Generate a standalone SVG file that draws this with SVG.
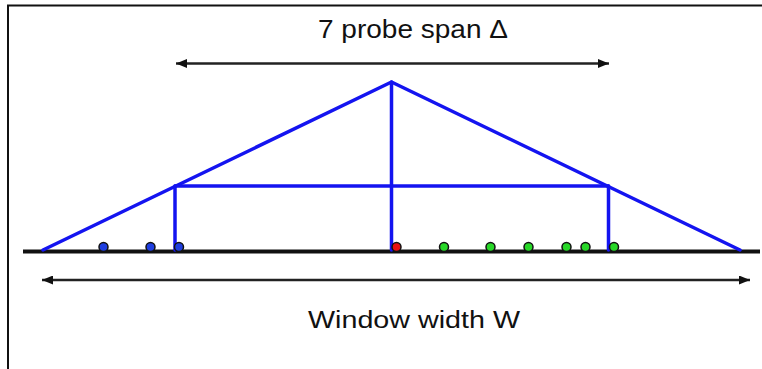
<svg xmlns="http://www.w3.org/2000/svg" width="762" height="369" viewBox="0 0 762 369">
<style>
.blue{stroke:#1414f0;stroke-width:3.5;fill:none;stroke-linecap:round;stroke-linejoin:round}
.dim{stroke:#222;stroke-width:2.5;fill:none}
.dot{stroke:#111;stroke-width:1.5}
.b{fill:#1e3ee0}.r{fill:#e81010}.g{fill:#28d828}
.lbl{font-family:"Liberation Sans",Arial,sans-serif;fill:#111}
</style>
<defs>
<marker id="ah" viewBox="0 0 11 9" refX="11" refY="4.5" markerWidth="11" markerHeight="9" markerUnits="userSpaceOnUse" orient="auto-start-reverse">
<path d="M0,0 L11,4.5 L0,9 Z" fill="#111"/>
</marker>
</defs>
<rect width="762" height="369" fill="#fff"/>
<path d="M8,369 V5.5 H762" fill="none" stroke="#111" stroke-width="2"/>
<g id="window">
<line x1="23" y1="251.5" x2="760" y2="251.5" stroke="#111" stroke-width="4"/>
</g>
<g id="triangle">
<polyline class="blue" points="43,250 391.5,82 740,250"/>
<line class="blue" x1="175" y1="186" x2="608.5" y2="186"/>
<line class="blue" x1="175" y1="186" x2="175" y2="250"/>
<line class="blue" x1="391.5" y1="82" x2="391.5" y2="250"/>
<line class="blue" x1="608.5" y1="186" x2="608.5" y2="250"/>
</g>
<g id="probes">
<circle class="dot b" cx="103.5" cy="247" r="4.5"/>
<circle class="dot b" cx="150.5" cy="247" r="4.5"/>
<circle class="dot b" cx="179" cy="247" r="4.5"/>
<circle class="dot r" cx="396.5" cy="247" r="4.5"/>
<circle class="dot g" cx="444" cy="247" r="4.5"/>
<circle class="dot g" cx="490.5" cy="247" r="4.5"/>
<circle class="dot g" cx="528.5" cy="247" r="4.5"/>
<circle class="dot g" cx="566.5" cy="247" r="4.5"/>
<circle class="dot g" cx="585.5" cy="247" r="4.5"/>
<circle class="dot g" cx="614" cy="247" r="4.5"/>
</g>
<g id="connectors">
<line class="dim" x1="176" y1="63.5" x2="609" y2="63.5" marker-start="url(#ah)" marker-end="url(#ah)"/>
<line class="dim" x1="42" y1="280" x2="750" y2="280" marker-start="url(#ah)" marker-end="url(#ah)"/>
</g>
<g id="span-label">
<text class="lbl" x="318" y="37.5" font-size="26" textLength="190" lengthAdjust="spacingAndGlyphs">7 probe span Δ</text>
</g>
<g id="width-label">
<text class="lbl" x="308" y="328" font-size="23" textLength="212" lengthAdjust="spacingAndGlyphs">Window width W</text>
</g>
</svg>
